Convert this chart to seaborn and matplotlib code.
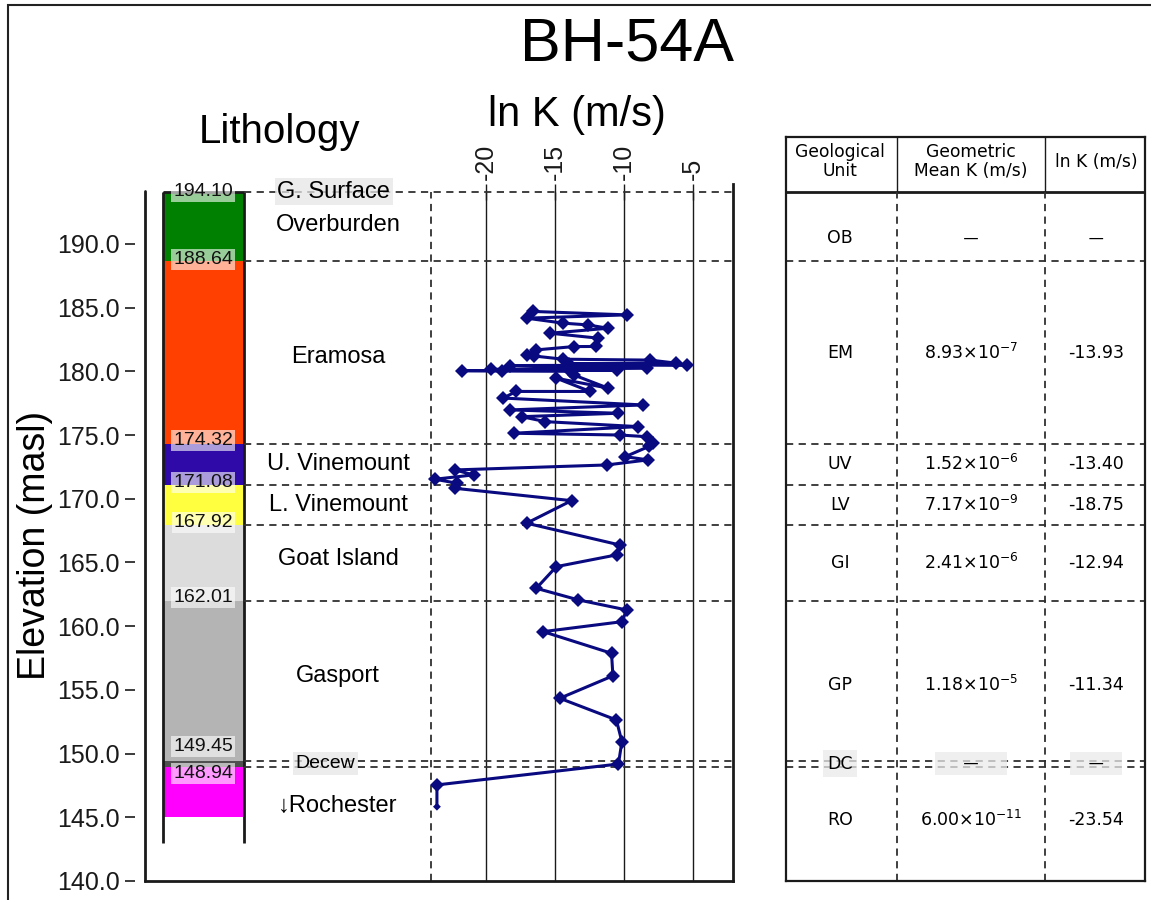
import matplotlib
matplotlib.use("Agg")
import matplotlib.pyplot as plt
from matplotlib.patches import Rectangle
import seaborn as sns
import pandas as pd
import numpy as np

# ---------------- data ----------------
title = "BH-54A"
layer_names = ["Overburden", "Eramosa", "U. Vinemount", "L. Vinemount",
               "Goat Island", "Gasport", "Decew", "\u2193Rochester"]
layer_tops = [194.10, 188.64, 174.32, 171.08, 167.92, 162.01, 149.45, 148.94]
layer_bottoms = [188.64, 174.32, 171.08, 167.92, 162.01, 149.45, 148.94, 145.00]
layer_colors = ["#008000", "#FF4000", "#2F0AA8", "#FFFF40",
                "#DCDCDC", "#B4B4B4", "#505050", "#FF00FF"]
layer_label_elev = [191.45, 181.15, 172.72, 169.50, 165.30, 156.05, 149.20, 145.90]
boundary_label_elev = [194.10, 188.80, 174.55, 171.30, 168.10, 162.25, 150.55, 148.45]

# ln K profile (elevation, ln K)
elev = [184.70, 184.43, 184.17, 183.78, 183.64, 183.38, 182.99, 182.60, 181.95,
        181.94, 181.68, 181.30, 181.20, 180.95, 180.88, 180.64, 180.60, 180.50,
        180.45, 180.24, 180.15, 180.10, 180.05, 180.02, 180.00, 179.72, 178.68,
        179.46, 178.42, 178.42, 177.90, 177.36, 176.97, 176.71, 176.44, 176.05,
        175.66, 175.14, 175.00, 174.87, 174.36, 174.10, 173.30, 173.05, 172.65,
        172.26, 171.87, 171.53, 171.22, 170.82, 169.85, 168.08, 166.37, 165.60,
        164.67, 162.97, 162.06, 161.27, 160.35, 159.57, 157.87, 156.10, 154.34,
        152.64, 150.94, 149.18, 147.54, 145.83]
lnk = [-16.60, -9.80, -17.05, -14.40, -12.60, -11.15, -15.35, -11.85, -12.00,
       -13.65, -16.35, -17.05, -16.50, -14.40, -8.10, -6.20, -14.00, -5.45,
       -18.25, -8.35, -19.60, -10.50, -21.75, -18.85, -13.90, -13.65, -11.15,
       -14.90, -12.45, -17.80, -18.75, -8.60, -18.25, -10.40, -17.40, -15.70,
       -8.95, -18.00, -10.30, -8.35, -7.90, -8.20, -9.90, -8.25, -11.25,
       -22.25, -20.90, -23.70, -22.10, -22.25, -13.80, -17.05, -10.30, -10.50,
       -14.90, -16.35, -13.30, -9.80, -10.15, -15.85, -10.90, -10.80, -14.65,
       -10.55, -10.15, -10.40, -23.55, -23.55]

ytick_vals = [140, 145, 150, 155, 160, 165, 170, 175, 180, 185, 190]
xtick_vals = [-20, -15, -10, -5]

# table
units = ["OB", "EM", "UV", "LV", "GI", "GP", "DC", "RO"]
mean_k_mant = [None, "8.93", "1.52", "7.17", "2.41", "1.18", None, "6.00"]
mean_k_exp = [None, -7, -6, -9, -6, -5, None, -11]
mean_lnk = [None, -13.93, -13.40, -18.75, -12.94, -11.34, None, -23.54]
row_elev = [190.45, 181.48, 172.70, 169.50, 164.97, 155.40, 149.20, 144.80]

# ---------------- style ----------------
sns.set_theme(style="white")
plt.rcParams["font.family"] = ["Liberation Sans", "DejaVu Sans"]
plt.rcParams["mathtext.fontset"] = "dejavusans"
plt.rcParams["text.color"] = "black"
plt.rcParams["axes.labelcolor"] = "black"
plt.rcParams["xtick.color"] = "black"
plt.rcParams["ytick.color"] = "black"

W, H = 1151, 900
fig = plt.figure(figsize=(W / 100, H / 100), dpi=100)
fig.patch.set_facecolor("white")


def fx(px):
    return px / W


def fy(py):
    return 1 - py / H


DASH = (0, (4, 3))
DCOL = "#303030"

# ---------------- main axes ----------------
ax = fig.add_axes([fx(145), fy(881), fx(733) - fx(145), fy(184) - fy(881)])
ax.set_facecolor("white")
XL, XR = -44.7, -2.1
ax.set_xlim(XL, XR)
ax.set_ylim(140, 194.7)

col_left, col_right = -43.41, -37.54
col_c = (col_left + col_right) / 2
df_lay = pd.DataFrame({"name": layer_names, "top": layer_tops,
                       "bot": layer_bottoms, "color": layer_colors})
ax.bar(x=[col_c] * len(df_lay), height=df_lay["top"] - df_lay["bot"],
       bottom=df_lay["bot"], width=col_right - col_left,
       color=df_lay["color"], edgecolor="none", zorder=2)
ax.vlines([col_left, col_right], 143.0, 194.10, color="k", lw=2, zorder=3)
ax.hlines(194.10, col_left, col_right, color="k", lw=2, zorder=3)

# boundary values
for v, yl in zip(layer_tops, boundary_label_elev):
    ax.text(col_c, yl, f"{v:.2f}", ha="center", va="center", fontsize=14,
            color="#111111", zorder=5,
            bbox=dict(boxstyle="square,pad=0.1", fc="white", ec="none", alpha=0.6))

# boundary dashed lines
ax.hlines(layer_tops, col_right, XR, colors=DCOL, linestyles=DASH, lw=1.3, zorder=3)

# grid lines for ln K
ax.vlines(xtick_vals, 140, 194.10, colors="k", lw=1.0, zorder=1)
ax.vlines(-24, 140, 194.10, colors=DCOL, linestyles=DASH, lw=1.3, zorder=1)

# layer labels
lab_x = -30.72
for name, ye in zip(layer_names, layer_label_elev):
    if name == "Decew":
        ax.text(lab_x - 0.9, ye, name, ha="center", va="center", fontsize=14,
                zorder=5, bbox=dict(boxstyle="square,pad=0.15", fc="#E6E6E6",
                                    ec="none", alpha=0.75))
    else:
        ax.text(lab_x, ye, name, ha="center", va="center", fontsize=17, zorder=5)
ax.text(lab_x - 0.3, 194.10, "G. Surface", ha="center", va="center", fontsize=17,
        zorder=5, bbox=dict(boxstyle="square,pad=0.1", fc="#E6E6E6", ec="none",
                            alpha=0.75))

# profile
df = pd.DataFrame({"elev": elev, "lnk": lnk})
sns.lineplot(data=df, x="lnk", y="elev", sort=False, estimator=None, ax=ax,
             color="#0A0A80", lw=2.2, marker="D", markersize=7.5,
             markeredgewidth=0, markevery=list(range(len(df) - 1)), zorder=6)
sns.scatterplot(data=df.iloc[[-1]], x="lnk", y="elev", ax=ax, marker="D",
                s=16, color="#0A0A80", edgecolor="none", zorder=7)

# axes styling
ax.spines["top"].set_visible(False)
ax.spines["left"].set_position(("outward", 7.2))
ax.spines["left"].set_visible(False)
ax.spines["bottom"].set_linewidth(2)
ax.spines["bottom"].set_color("k")
ax.spines["right"].set_linewidth(2)
ax.spines["right"].set_color("k")
ax.plot([0, 0], [0, 0.99], transform=ax.transAxes, color="k", lw=2, clip_on=False)

ax.set_yticks(ytick_vals)
ax.set_yticklabels([f"{v:.1f}" for v in ytick_vals])
ax.tick_params(axis="y", left=True, direction="out", length=7.2, width=1.2,
               pad=4, labelsize=18, color="k", labelcolor="k")

ax.xaxis.tick_top()
ax.spines["top"].set_position(("data", 194.10))
ax.set_xticks(xtick_vals)
ax.set_xticklabels([str(v) for v in xtick_vals])
ax.tick_params(axis="x", top=True, bottom=False, direction="inout", length=11,
               width=1.0, pad=3, labelsize=18, labelrotation=90, color="k",
               labelcolor="k")
ax.set_xlabel("")
ax.set_ylabel("")

# titles
fig.text(fx(627), fy(45), title, ha="center", va="center", fontsize=44)
fig.text(fx(280), fy(132), "Lithology", ha="center", va="center", fontsize=29)
fig.text(fx(577), fy(115), "ln K (m/s)", ha="center", va="center", fontsize=30)
fig.text(fx(35), fy(545), "Elevation (masl)", ha="center", va="center",
         fontsize=27, rotation=90)

# ---------------- table ----------------
TT = 140 + (881 - 137) / 12.74
tax = fig.add_axes([fx(786), fy(881), fx(1145) - fx(786), fy(137) - fy(881)])
tax.set_xlim(0, 1)
tax.set_ylim(140, TT)
tax.set_xticks([])
tax.set_yticks([])
tax.set_facecolor("white")
for s in tax.spines.values():
    s.set_visible(True)
    s.set_color("k")
    s.set_linewidth(1.6)
tax.axhline(194.10, color="k", lw=2)
dividers = [0.309, 0.7214]
tax.vlines(dividers, 194.10, TT, colors="k", lw=1.0)
tax.vlines(dividers, 140, 194.10, colors=DCOL, linestyles=DASH, lw=1.3)
tax.hlines(layer_tops[1:], 0, 1, colors=DCOL, linestyles=DASH, lw=1.3)

tf = ["DejaVu Sans"]
hy = 196.45
cx = [0.15, 0.515, 0.864]
tax.text(cx[0], hy, "Geological\nUnit", ha="center", va="center", fontsize=12.3,
         family=tf, linespacing=1.05)
tax.text(cx[1], hy, "Geometric\nMean K (m/s)", ha="center", va="center",
         fontsize=12.3, family=tf, linespacing=1.05)
tax.text(cx[2], hy, "ln K (m/s)", ha="center", va="center", fontsize=12.3,
         family=tf)

for u, m, e, lk, ry in zip(units, mean_k_mant, mean_k_exp, mean_lnk, row_elev):
    gray = dict(boxstyle="square,pad=0.25", fc="#EAEAEA", ec="none", alpha=0.75)
    tax.text(cx[0], ry, u, ha="center", va="center", fontsize=12.5, family=tf,
             bbox=gray if u == "DC" else None)
    if m is None:
        tax.text(cx[1], ry, "     \u2014     ", ha="center", va="center",
                 fontsize=11, family=tf, bbox=gray if u == "DC" else None)
        tax.text(cx[2], ry, "   \u2014   ", ha="center", va="center",
                 fontsize=11, family=tf, bbox=gray if u == "DC" else None)
    else:
        tax.text(cx[1], ry, f"{m}$\\times$10$^{{{e}}}$", ha="center",
                 va="center", fontsize=12.5, family=tf)
        tax.text(cx[2], ry, f"{lk:.2f}", ha="center", va="center",
                 fontsize=12.5, family=tf)

# figure border
fig.add_artist(Rectangle((fx(8), -0.01), 1.02, fy(5) + 0.01,
                         transform=fig.transFigure, fill=False, lw=1.5,
                         ec="#222222"))

fig.savefig("out.png", dpi=100, facecolor="white")
